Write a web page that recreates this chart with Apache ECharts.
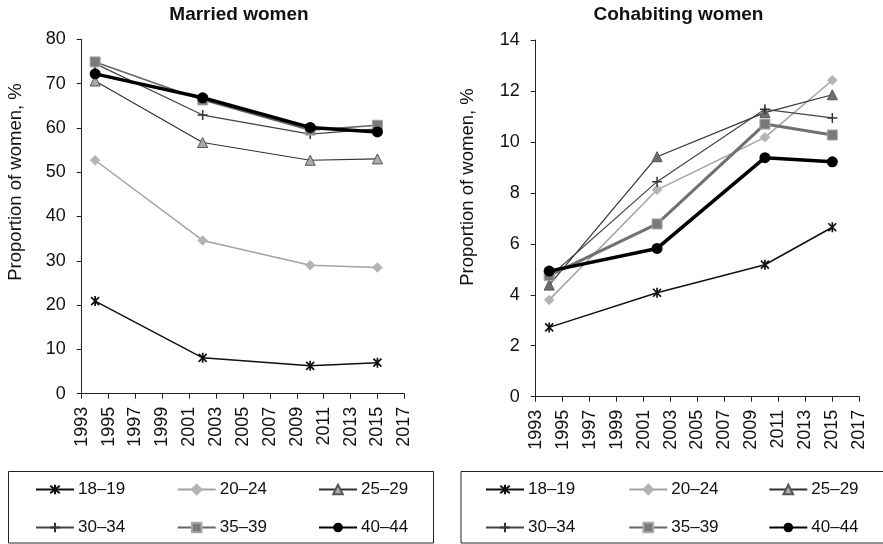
<!DOCTYPE html>
<html>
<head>
<meta charset="utf-8">
<script src="https://cdn.jsdelivr.net/npm/echarts@6/dist/echarts.min.js"></script>
<style>
html,body{margin:0;padding:0;background:#fff;}
#chart{width:883px;height:544px;}
</style>
</head>
<body>
<div id="chart"></div>
<script>
// ---- data ----
var years = [1994, 2002, 2010, 2015];
var ageGroups = ['18\u201319', '20\u201324', '25\u201329', '30\u201334', '35\u201339', '40\u201344'];
var yearTickStart = 1993;
var yearTickEnd = 2017;

var married_18_19 = [20.9, 8.1, 6.3, 7.0];
var married_20_24 = [52.7, 34.6, 29.0, 28.5];
var married_25_29 = [70.6, 56.7, 52.7, 53.0];
var married_30_34 = [74.5, 62.9, 58.6, 59.8];
var married_35_39 = [74.9, 66.3, 59.5, 60.6];
var married_40_44 = [72.2, 66.8, 60.1, 59.1];

var cohab_18_19 = [2.72, 4.08, 5.18, 6.65];
var cohab_20_24 = [3.8, 8.12, 10.18, 12.42];
var cohab_25_29 = [4.38, 9.42, 11.15, 11.85];
var cohab_30_34 = [4.7, 8.44, 11.28, 10.94];
var cohab_35_39 = [4.75, 6.78, 10.7, 10.27];
var cohab_40_44 = [4.93, 5.82, 9.38, 9.22];

var marriedValues = [married_18_19, married_20_24, married_25_29, married_30_34, married_35_39, married_40_44];
var cohabValues = [cohab_18_19, cohab_20_24, cohab_25_29, cohab_30_34, cohab_35_39, cohab_40_44];

var titles = ['Married women', 'Cohabiting women'];
var yName = 'Proportion of women, %';

// ---- styles ----
var FONT = 'Liberation Sans, Arial, Helvetica, sans-serif';
var ASTER = 'path://M1,1L9,9M9,1L1,9M5,0L5,10';
var PLUS = 'path://M5,0L5,10M0,5L10,5';

function styleFor(i, chart) {
  var s = [
    {symbol: ASTER, symbolSize: 10, line: {color: '#111', width: 1.5}, item: {color: '#111', borderColor: '#111', borderWidth: 1.7}},
    {symbol: 'diamond', symbolSize: 10, line: {color: '#a3a3a3', width: 1.5}, item: {color: '#b3b3b3', borderColor: '#b3b3b3', borderWidth: 0.5}},
    {symbol: 'triangle', symbolSize: 10, line: {color: '#333', width: 1.2},
      item: chart === 0 ? {color: '#ababab', borderColor: '#555', borderWidth: 1} : {color: '#6e6e6e', borderColor: '#555', borderWidth: 1}},
    {symbol: PLUS, symbolSize: 10, line: {color: '#444', width: 1.2}, item: {color: '#333', borderColor: '#333', borderWidth: 1.5}},
    {symbol: 'rect', symbolSize: 10, line: {color: chart === 0 ? '#666' : '#707070', width: chart === 0 ? 1.6 : 3}, item: {color: '#7a7a7a', borderColor: '#a8a8a8', borderWidth: 1}},
    {symbol: 'circle', symbolSize: 11, line: {color: '#000', width: 3.5}, item: {color: '#000', borderColor: '#000', borderWidth: 0}}
  ][i];
  return s;
}

var series = [];
[marriedValues, cohabValues].forEach(function (vals, c) {
  vals.forEach(function (arr, i) {
    var st = styleFor(i, c);
    series.push({
      name: ageGroups[i],
      type: 'line',
      xAxisIndex: c,
      yAxisIndex: c,
      data: years.map(function (y, k) { return [y - yearTickStart, arr[k]]; }),
      symbol: st.symbol,
      symbolSize: st.symbolSize,
      symbolKeepAspect: true,
      showAllSymbol: true,
      lineStyle: st.line,
      itemStyle: st.item,
      emphasis: {disabled: true},
      animation: false,
      z: 2 + i
    });
  });
});

var grids = [
  {left: 81.7, top: 39.3, width: 322.6, height: 354.4},
  {left: 535.7, top: 40, width: 323.6, height: 356.7}
];

function xAxis(idx) {
  return {
    type: 'value', gridIndex: idx, min: 0, max: yearTickEnd - yearTickStart, interval: 2,
    axisLine: {onZero: false, lineStyle: {color: '#222', width: 1}},
    axisTick: {show: true, length: 5, lineStyle: {color: '#222'}},
    splitLine: {show: false},
    axisLabel: {
      rotate: 90, margin: 13, fontSize: 18, color: '#111', fontFamily: FONT,
      formatter: function (v) { return String(v + yearTickStart); }
    }
  };
}
function yAxis(idx, max, interval) {
  return {
    type: 'value', gridIndex: idx, min: 0, max: max, interval: interval,
    axisLine: {show: true, lineStyle: {color: '#222', width: 1}},
    axisTick: {show: true, length: 5, lineStyle: {color: '#222'}},
    splitLine: {show: false},
    axisLabel: {margin: 16, fontSize: 18, color: '#111', fontFamily: FONT}
  };
}

// legends: 3 columns x 2 rows per chart
var legendCols = [[35, 176.7, 318], [485, 628.3, 768.3]];
var legendRows = [481, 519];
var legends = [];
legendCols.forEach(function (cols, c) {
  ageGroups.forEach(function (name, i) {
    legends.push({
      data: [name],
      left: cols[i % 3],
      top: legendRows[Math.floor(i / 3)],
      itemWidth: 38,
      itemHeight: 12,
      itemGap: 0,
      padding: 0,
      selectedMode: false,
      textStyle: {fontSize: 17, color: '#111', fontFamily: FONT, padding: [0, 0, 0, -1]}
    });
  });
});

var option = {
  backgroundColor: '#fff',
  animation: false,
  title: [
    {text: titles[0], left: 239, top: 5, textAlign: 'center', padding: 0,
      textStyle: {fontSize: 19, fontWeight: 'bold', color: '#111', fontFamily: FONT}},
    {text: titles[1], left: 678.5, top: 5, textAlign: 'center', padding: 0,
      textStyle: {fontSize: 19, fontWeight: 'bold', color: '#111', fontFamily: FONT}}
  ],
  grid: grids,
  xAxis: [xAxis(0), xAxis(1)],
  yAxis: [yAxis(0, 80, 10), yAxis(1, 14, 2)],
  legend: legends,
  series: series,
  graphic: [
    {type: 'text', x: 16, y: 182, rotation: Math.PI / 2,
      style: {text: yName, fontSize: 18.5, fontFamily: FONT, fill: '#111', align: 'center', verticalAlign: 'middle'}},
    {type: 'text', x: 468, y: 187, rotation: Math.PI / 2,
      style: {text: yName, fontSize: 18.5, fontFamily: FONT, fill: '#111', align: 'center', verticalAlign: 'middle'}},
    {type: 'rect', shape: {x: 8.5, y: 471.5, width: 425, height: 71.5},
      style: {fill: 'none', stroke: '#222', lineWidth: 1}, z: -1},
    {type: 'rect', shape: {x: 461, y: 471.5, width: 440, height: 71.5},
      style: {fill: 'none', stroke: '#222', lineWidth: 1}, z: -1}
  ]
};

var chart = echarts.init(document.getElementById('chart'), null, {renderer: 'canvas'});
chart.setOption(option);
</script>
</body>
</html>
